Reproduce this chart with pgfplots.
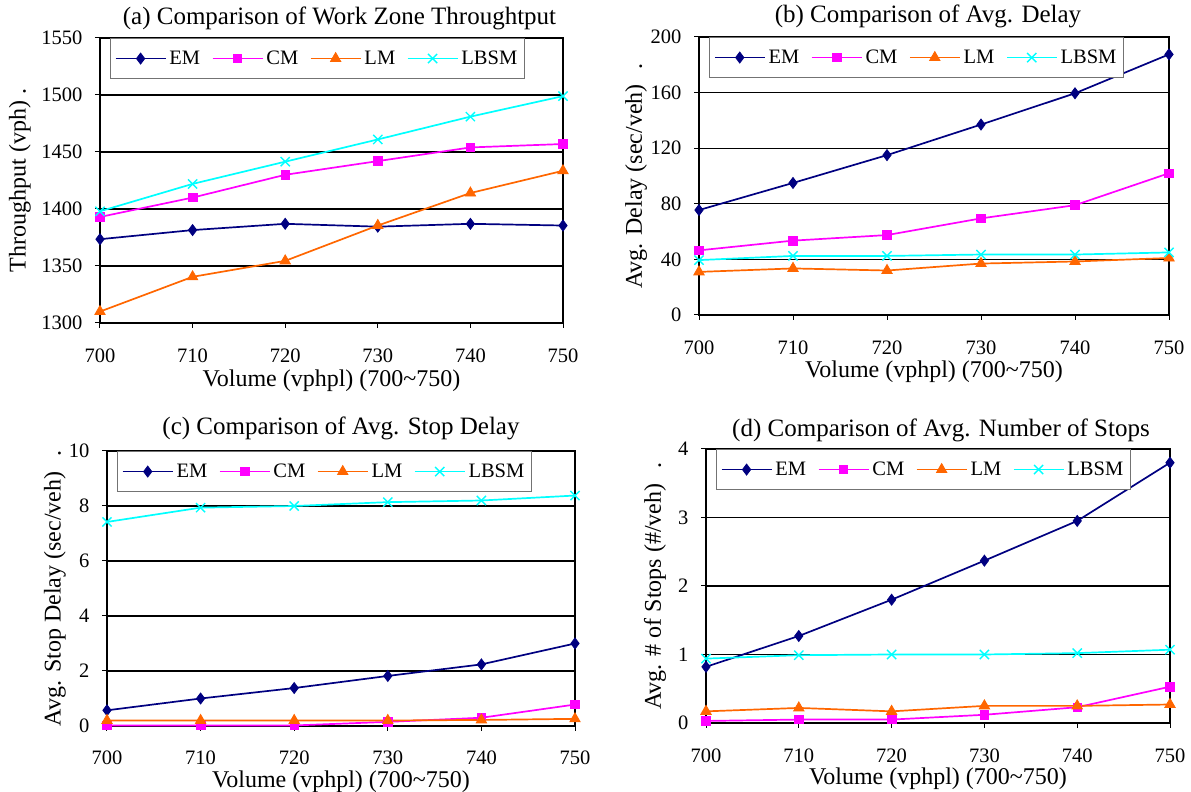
\documentclass[border=0pt]{standalone}
\usepackage{fontspec}
\setmainfont{Liberation Serif}
\usepackage{pgfplots}
\pgfplotsset{compat=1.18}

\definecolor{emc}{RGB}{0,0,128}
\definecolor{cmc}{RGB}{255,0,255}
\definecolor{lmc}{RGB}{255,102,0}
\definecolor{lbc}{RGB}{0,255,255}

\pgfplotsset{
  panel/.style={
    scale only axis,
    anchor=south west,
    xmin=700, xmax=750, xtick={700,710,...,750},
    axis line style={line width=1.3pt},
    ymajorgrids, major grid style={black, line width=1.1pt},
    tick align=outside, major tick length=5pt, tick style={black, line width=1pt},
    tick pos=left,
    /pgf/number format/assume math mode=true,
    /pgf/number format/set thousands separator={},
    every tick label/.append style={font=\fontsize{20.5}{24}\selectfont},
    xticklabel style={anchor=base, yshift=-35pt, inner sep=0.5pt},
    yticklabel style={xshift=-9pt},
    title style={font=\fontsize{25}{30}\selectfont, at={(axis description cs:0.5,1)}, anchor=base},
    label style={font=\fontsize{24}{29}\selectfont},
    xlabel={Volume (vphpl) (700\textasciitilde750)},
    legend columns=4,
    legend style={at={(0.022,1)}, anchor=north west, draw=black!55, line width=1.1pt, fill=white,
      font=\fontsize{20.5}{24}\selectfont, inner xsep=4pt, inner ysep=9.5pt,
      nodes={inner xsep=3pt, inner ysep=3pt},
      /tikz/every even column/.append style={column sep=8.5pt}},
    legend image code/.code={\draw[mark repeat=2,mark phase=2] plot coordinates {(0pt,0pt) (25pt,0pt) (50pt,0pt)};},
    clip=false,
  },
  em/.style={color=emc, line width=1.7pt, mark=diamond*, mark size=5.5pt, mark options={solid, line width=0.8pt}},
  cm/.style={color=cmc, line width=1.7pt, mark=square*, mark size=4.3pt, mark options={solid, line width=0.8pt}},
  lm/.style={color=lmc, line width=1.7pt, mark=triangle*, mark size=6pt, mark options={solid, line width=0.8pt}},
  lb/.style={color=lbc, line width=1.7pt, mark=x, mark size=6.5pt, mark options={solid, line width=1.4pt}},
}

\begin{document}
\begin{tikzpicture}[x=1pt,y=1pt]
\path[use as bounding box] (0,0) rectangle (1191,792);

% (a)
\begin{axis}[panel, at={(100pt,469pt)}, width=463pt, height=285pt,
  ymin=1300, ymax=1550, ytick={1300,1350,...,1550},
  title={(a) Comparison of Work Zone Throughtput}, title style={xshift=8pt, yshift=7pt},
  xlabel style={at={(axis description cs:0.5,0)}, anchor=base, yshift=-64pt, inner sep=1pt},
  ylabel={Throughput (vph)\hspace{6pt}.}, ylabel style={at={(axis description cs:-0.1728,0.5)}, anchor=center}]
\addplot[em] coordinates {(700,1373.5) (710,1381.5) (720,1387) (730,1384.5) (740,1387) (750,1385.5)};
\addplot[cm] coordinates {(700,1393) (710,1410) (720,1430) (730,1442) (740,1454) (750,1457)};
\addplot[lm] coordinates {(700,1310) (710,1340.5) (720,1354.5) (730,1385.5) (740,1414) (750,1433.5)};
\addplot[lb] coordinates {(700,1398) (710,1422) (720,1441.5) (730,1461) (740,1481) (750,1499)};
\legend{EM,CM,LM,LBSM}
\end{axis}

% (b)
\begin{axis}[panel, at={(699pt,477pt)}, width=470pt, height=278pt,
  ymin=0, ymax=200, ytick={0,40,...,200},
  title={(b) Comparison of Avg. Delay}, title style={xshift=-6pt, yshift=8pt},
  xlabel style={at={(axis description cs:0.5,0)}, anchor=base, yshift=-63pt, inner sep=1pt},
  ylabel={Avg. Delay (sec/veh)\hspace{15pt}.}, ylabel style={at={(axis description cs:-0.134,0.5)}, anchor=center}]
\addplot[em] coordinates {(700,75.5) (710,95) (720,115) (730,137) (740,159.5) (750,187.5)};
\addplot[cm] coordinates {(700,46.5) (710,53.5) (720,57.5) (730,69.5) (740,79) (750,102)};
\addplot[lm] coordinates {(700,31) (710,33.5) (720,32) (730,37) (740,38.5) (750,41)};
\addplot[lb] coordinates {(700,39.5) (710,42.5) (720,42.5) (730,43.5) (740,43.5) (750,45)};
\legend{EM,CM,LM,LBSM}
\end{axis}

% (c)
\begin{axis}[panel, at={(107pt,66pt)}, width=468pt, height=275pt,
  ymin=0, ymax=10, ytick={0,2,...,10},
  xticklabel style={yshift=1pt},
  title={(c) Comparison of Avg. Stop Delay}, title style={yshift=10pt},
  xlabel style={at={(axis description cs:0.5,0)}, anchor=base, yshift=-61.5pt, inner sep=1pt},
  ylabel={Avg. Stop Delay (sec/veh)\hspace{15pt}.}, ylabel style={at={(axis description cs:-0.1111,0.5)}, anchor=center}]
\addplot[em] coordinates {(700,0.57) (710,1.0) (720,1.38) (730,1.82) (740,2.24) (750,3.0)};
\addplot[cm] coordinates {(700,0.02) (710,0.02) (720,0.02) (730,0.15) (740,0.3) (750,0.78)};
\addplot[lm] coordinates {(700,0.2) (710,0.2) (720,0.2) (730,0.2) (740,0.22) (750,0.26)};
\addplot[lb] coordinates {(700,7.42) (710,7.94) (720,8.0) (730,8.14) (740,8.2) (750,8.38)};
\legend{EM,CM,LM,LBSM}
\end{axis}

% (d)
\begin{axis}[panel, at={(706pt,69pt)}, width=464pt, height=274pt,
  ymin=0, ymax=4, ytick={0,1,...,4},
  xticklabel style={yshift=1pt},
  title={(d) Comparison of Avg. Number of Stops}, title style={xshift=3pt, yshift=6pt},
  xlabel style={at={(axis description cs:0.5,0)}, anchor=base, yshift=-61.5pt, inner sep=1pt},
  ylabel={Avg. \# of Stops (\#/veh)\hspace{15pt}.}, ylabel style={at={(axis description cs:-0.1099,0.5)}, anchor=center}]
\addplot[em] coordinates {(700,0.82) (710,1.27) (720,1.8) (730,2.37) (740,2.95) (750,3.8)};
\addplot[cm] coordinates {(700,0.03) (710,0.05) (720,0.05) (730,0.12) (740,0.23) (750,0.53)};
\addplot[lm] coordinates {(700,0.17) (710,0.22) (720,0.17) (730,0.25) (740,0.25) (750,0.27)};
\addplot[lb] coordinates {(700,0.94) (710,0.99) (720,1.0) (730,1.0) (740,1.02) (750,1.07)};
\legend{EM,CM,LM,LBSM}
\end{axis}
\end{tikzpicture}
\end{document}
